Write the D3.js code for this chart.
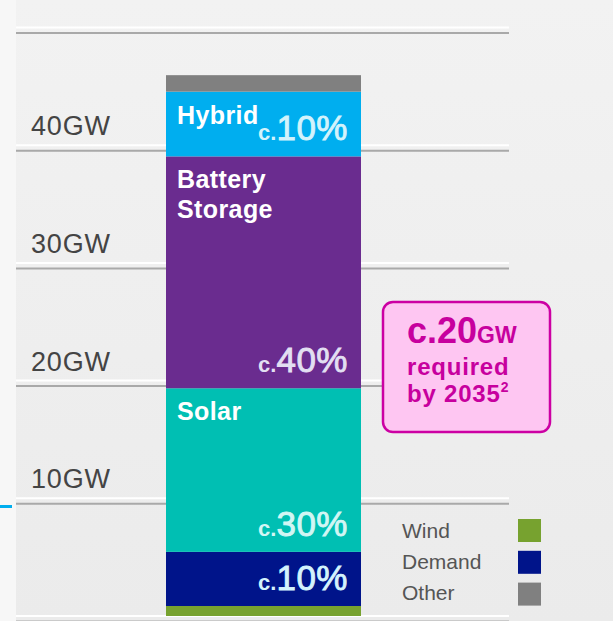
<!DOCTYPE html>
<html>
<head>
<meta charset="utf-8">
<script src="https://cdn.jsdelivr.net/npm/d3@7"></script>
<style>
  html, body { margin: 0; padding: 0; background: #efefef; }
  svg { display: block; font-family: "Liberation Sans", Arial, Helvetica, sans-serif; }
</style>
</head>
<body>
<div id="chart"></div>
<script>
// stacked segments, bottom to top
var segments = ["Wind", "Demand", "Solar", "Battery Storage", "Hybrid", "Other"];
var capacityGW = [0.85, 4.6, 13.9, 19.7, 5.5, 1.4];
var segmentColors = ["#77a22f", "#00148a", "#00bfb3", "#6a2c8f", "#00aeef", "#808080"];
var shareLabels = ["", "10%", "30%", "40%", "10%", ""];
var nameLines = [[], [], ["Solar"], ["Battery", "Storage"], ["Hybrid"], []];
var shareColors = ["", "#d4f3fd", "#d2f6f4", "#e2dff2", "#d3f3fc", ""];

var gridValues = [0, 10, 20, 30, 40, 50];
var tickLabels = ["", "10GW", "20GW", "30GW", "40GW", ""];

var legendNames = ["Wind", "Demand", "Other"];
var legendColors = ["#77a22f", "#00148a", "#808080"];

var calloutValue = "c.20";
var calloutUnit = "GW";
var calloutLines = ["required", "by 2035"];

var svgWidth = 613;
var svgHeight = 621;

var svg = d3.select("#chart")
    .append("svg")
    .attr("width", svgWidth)
    .attr("height", svgHeight);

// background
var defs = svg.append("defs");
var grad = defs.append("linearGradient")
    .attr("id", "bg")
    .attr("x1", 0).attr("y1", 0).attr("x2", 0).attr("y2", 1);
grad.append("stop").attr("offset", "0%").attr("stop-color", "#f2f2f2");
grad.append("stop").attr("offset", "100%").attr("stop-color", "#ebebeb");

svg.append("rect")
    .attr("width", svgWidth).attr("height", svgHeight)
    .attr("fill", "url(#bg)");
svg.append("rect")
    .attr("width", 16).attr("height", svgHeight)
    .attr("fill", "#f7f7f7");
svg.append("rect")
    .attr("x", 0).attr("y", 505)
    .attr("width", 12).attr("height", 3)
    .attr("fill", "#00aeef");

var yScale = d3.scaleLinear()
    .domain([0, 50])
    .range([616, 27.5]);

var xScale = d3.scaleBand()
    .domain(["2035"])
    .range([166, 361])
    .padding(0);

// gridlines: white highlight with a grey line just below
var grid = svg.append("g");
grid.selectAll(".gw")
    .data(gridValues)
    .enter()
    .append("line")
    .attr("x1", 16).attr("x2", 509)
    .attr("y1", d => yScale(d)).attr("y2", d => yScale(d))
    .attr("stroke", "#ffffff")
    .attr("stroke-width", 2);
grid.selectAll(".gg")
    .data(gridValues)
    .enter()
    .append("line")
    .attr("x1", 16).attr("x2", 509)
    .attr("y1", d => yScale(d) + 5.5).attr("y2", d => yScale(d) + 5.5)
    .attr("stroke", "#a9a9a9")
    .attr("stroke-width", 2);

grid.selectAll("text")
    .data(gridValues)
    .enter()
    .append("text")
    .attr("x", 31)
    .attr("y", d => yScale(d) - 10)
    .attr("fill", "#444")
    .attr("font-size", 27)
    .attr("letter-spacing", 0.8)
    .text((d, i) => tickLabels[i]);

// stacked bar
var tops = d3.cumsum(capacityGW);
var stackData = segments.map(function(name, i) {
    return {
        name: name,
        y0: tops[i] - capacityGW[i],
        y1: tops[i],
        color: segmentColors[i],
        share: shareLabels[i],
        shareColor: shareColors[i],
        lines: nameLines[i]
    };
});

var bar = svg.append("g");
bar.selectAll("rect")
    .data(stackData)
    .enter()
    .append("rect")
    .attr("x", xScale("2035"))
    .attr("width", xScale.bandwidth())
    .attr("y", d => yScale(d.y1))
    .attr("height", d => yScale(d.y0) - yScale(d.y1))
    .attr("fill", d => d.color);

// segment names
stackData.forEach(function(d) {
    d.lines.forEach(function(line, j) {
        bar.append("text")
            .attr("x", xScale("2035") + 11)
            .attr("y", yScale(d.y1) + 32 + j * 30)
            .attr("fill", "#ffffff")
            .attr("font-size", 25)
            .attr("font-weight", "bold")
            .attr("letter-spacing", 0.4)
            .text(line);
    });
});

// share labels
var shares = bar.selectAll(".share")
    .data(stackData.filter(d => d.share !== ""))
    .enter()
    .append("text")
    .attr("class", "share")
    .attr("x", xScale("2035") + xScale.bandwidth() - 13)
    .attr("y", d => yScale(d.y0) - 16)
    .attr("text-anchor", "end")
    .attr("fill", d => d.shareColor);
shares.append("tspan")
    .attr("font-size", 22)
    .attr("font-weight", "bold")
    .text("c.");
shares.append("tspan")
    .attr("font-size", 35)
    .attr("letter-spacing", 0.5)
    .attr("stroke", d => d.shareColor)
    .attr("stroke-width", 0.9)
    .text(d => d.share);

// callout
var callout = svg.append("g").attr("transform", "translate(382,301)");
callout.append("rect")
    .attr("x", 1).attr("y", 1)
    .attr("width", 167).attr("height", 130)
    .attr("rx", 10)
    .attr("fill", "#fec6f2")
    .attr("stroke", "#cc00a3")
    .attr("stroke-width", 2.5);
var big = callout.append("text")
    .attr("x", 25).attr("y", 42)
    .attr("fill", "#c7009e")
    .attr("font-weight", "bold");
big.append("tspan").attr("font-size", 36).text(calloutValue);
big.append("tspan").attr("font-size", 23).text(calloutUnit);
callout.append("text")
    .attr("x", 25).attr("y", 74)
    .attr("fill", "#c7009e")
    .attr("font-weight", "bold")
    .attr("font-size", 24)
    .attr("letter-spacing", 0.8)
    .text(calloutLines[0]);
var last = callout.append("text")
    .attr("x", 25).attr("y", 101)
    .attr("fill", "#c7009e")
    .attr("font-weight", "bold")
    .attr("font-size", 24)
    .attr("letter-spacing", 0.8);
last.append("tspan").text(calloutLines[1]);
last.append("tspan").attr("font-size", 14).attr("dy", -10).text("2");

// legend
var legend = svg.append("g");
legend.selectAll("rect")
    .data(legendNames)
    .enter()
    .append("rect")
    .attr("x", 518)
    .attr("y", (d, i) => 519 + i * 31.8)
    .attr("width", 23).attr("height", 23)
    .attr("fill", (d, i) => legendColors[i]);
legend.selectAll("text")
    .data(legendNames)
    .enter()
    .append("text")
    .attr("x", 402)
    .attr("y", (d, i) => 537.5 + i * 31.3)
    .attr("fill", "#555")
    .attr("font-size", 21)
    .text(d => d);
</script>
</body>
</html>
